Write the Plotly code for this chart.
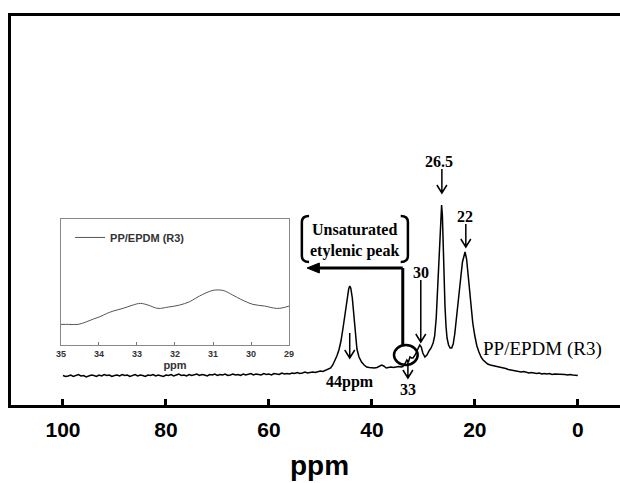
import plotly.graph_objects as go

# ---------------- data ----------------
# Main 13C NMR spectrum: chemical shift (ppm) and intensity (a.u.)
ppm_main = [
    100, 99.5, 99, 98.5, 98, 97.5, 97, 96.5, 96, 95.5, 95, 94.5, 94, 93.5, 93, 92.5,
    92, 91.5, 91, 90.5, 90, 89.5, 89, 88.5, 88, 87.5, 87, 86.5, 86, 85.5, 85, 84.5,
    84, 83.5, 83, 82.5, 82, 81.5, 81, 80.5, 80, 79.5, 79, 78.5, 78, 77.5, 77, 76.5,
    76, 75.5, 75, 74.5, 74, 73.5, 73, 72.5, 72, 71.5, 71, 70.5, 70, 69.5, 69, 68.5,
    68, 67.5, 67, 66.5, 66, 65.5, 65, 64.5, 64, 63.5, 63, 62.5, 62, 61.5, 61, 60.5,
    60, 59.5, 59, 58.5, 58, 57.5, 57, 56.5, 56, 55.5, 55, 54.5, 54, 53.5, 53, 52.5,
    52, 51.5, 51, 50.5, 50, 49.5, 49, 48.5, 48, 47.6, 47.2, 46.8, 46.4, 46.0, 45.6,
    45.2, 44.8, 44.5, 44.3, 44.1, 43.8, 43.5, 43.3, 43.1, 42.9, 42.5, 42.0, 41.5,
    41.0, 40.5, 40.0, 39.5, 39.0, 38.5, 38.1, 37.7, 37.2, 36.8, 36.3, 35.8, 35.3,
    34.8, 34.3, 34.0, 33.6, 33.2, 32.9, 32.6, 32.3, 32.0, 31.6, 31.3, 31.0, 30.7,
    30.4, 30.1, 29.7, 29.3, 28.9, 28.5, 28.1, 27.8, 27.5, 27.2, 27.0, 26.8, 26.6,
    26.45, 26.3, 26.15, 26.0, 25.8, 25.6, 25.4, 25.1, 24.8, 24.5, 24.2, 23.9, 23.6,
    23.3, 23.0, 22.7, 22.4, 22.1, 21.9, 21.6, 21.3, 21.0, 20.7, 20.4, 20.0, 19.6,
    19.2, 18.8, 18.4, 18.0, 17.5, 17.0, 16.5, 16.0, 15.5, 15.0, 14.5, 14.0, 13.5,
    13.0, 12.5, 12.0, 11.5, 11.0, 10.5, 10.0, 9.5, 9.0, 8.5, 8.0, 7.5, 7.0, 6.5,
    6.0, 5.5, 5.0, 4.5, 4.0, 3.5, 3.0, 2.5, 2.0, 1.5, 1.0, 0.5, 0.0,
]
int_main = [
    0.5, -0.5, 0, 1, -0.5, 0.5, 1.5, 0, 0.5, -1, 0, 1, 0.5, -0.5, 1, 0,
    1.5, 0.5, 1, -0.5, 0.5, 1, 0, 1.5, 0.5, 1, -0.5, 0.5, 1.5, 0, 1, 0.5,
    -0.5, 1, 0.5, 1.5, 0, 1, 0.5, -0.5, 1, 0.5, 1.5, 0, 1, 2, 0.5, 1,
    0, 1.5, 0.5, 1, 2, 0.5, 1.5, 1, 0, 1.5, 1, 2, 0.5, 1.5, 1, 2,
    0.5, 1, 2, 1, 1.5, 0.5, 2, 1, 1.5, 2.5, 1, 2, 1.5, 1, 2.5, 1.5,
    2, 1, 2.5, 2, 1.5, 3, 2, 2.5, 2, 3, 2.5, 3.5, 2.5, 3, 4, 3,
    3.5, 4, 3.5, 4.5, 5, 4.5, 5.5, 6.5, 8, 11, 15, 20, 26, 35, 48,
    63, 79, 87, 90, 88, 78, 61, 49, 37, 27, 19, 14, 11,
    9, 8.5, 8, 8, 8.5, 9.5, 11, 10, 8, 8.5, 9, 8.5, 9,
    9.5, 9, 9.5, 12, 16, 14, 19, 18, 18, 21, 25, 29, 31,
    29, 23, 19, 21, 25, 28, 33, 40, 58, 90, 118, 148, 168,
    171, 160, 130, 100, 70, 50, 38, 31, 28, 28, 32, 42, 55,
    70, 84, 100, 114, 122, 124, 117, 100, 83, 66, 53, 40, 30,
    24, 19, 16, 14, 12, 11, 10.5, 10, 9.5, 9, 8, 7.5, 6.5,
    6, 5.5, 5, 4.5, 4, 4.5, 3.5, 3, 3.5, 3, 2.5, 3, 2, 2.5,
    2, 2.5, 1.5, 2, 2, 1.5, 2, 1.5, 1, 1.5, 1, 0.5, 0.5,
]

# Inset: zoom of the 35-29 ppm region
ppm_inset = [35.0, 34.8, 34.55, 34.33, 34.15, 33.98, 33.8, 33.63, 33.37, 33.11,
             32.91, 32.71, 32.45, 32.18, 31.88, 31.62, 31.45, 31.27, 31.1, 30.96,
             30.74, 30.6, 30.48, 30.21, 29.95, 29.64, 29.33, 29.16, 29.0]
int_inset = [20.7, 20.7, 20.7, 23.3, 26, 28.3, 31.5, 34, 36.7, 40,
             41.7, 40, 36.7, 38, 40, 43.3, 47, 50.7, 53.5, 55,
             54.7, 52.5, 50, 44.7, 40.7, 39, 36.7, 37.3, 39]

main_ticks = [100, 80, 60, 40, 20, 0]
inset_ticks = [35, 34, 33, 32, 31, 30, 29]
series_name = "PP/EPDM (R3)"
x_title = "ppm"

# ---------------- figure ----------------
SERIF = "Liberation Serif, Times New Roman, serif"
SANS = "Liberation Sans, Arial, sans-serif"

fig = go.Figure()
fig.add_trace(go.Scatter(x=ppm_main, y=int_main, mode="lines",
                         line=dict(color="black", width=1.5),
                         showlegend=False, xaxis="x", yaxis="y"))
fig.add_trace(go.Scatter(x=ppm_inset, y=int_inset, mode="lines",
                         line=dict(color="#555555", width=1, shape="spline"),
                         name=series_name, xaxis="x2", yaxis="y2"))

PX = 5.15  # pixels per ppm (for annotation geometry)


def down_arrow(x, y_top, y_tip, hw=5.0, hh=8.0):
    dx = hw / PX
    return dict(type="path", xref="x", yref="y",
                path=f"M {x},{y_top} L {x},{y_tip} M {x+dx},{y_tip+hh} L {x},{y_tip} L {x-dx},{y_tip+hh}",
                line=dict(color="black", width=1.5))


shapes = [
    down_arrow(26.4, 207, 183),
    down_arrow(21.75, 152, 129),
    down_arrow(30.5, 96, 34),
    down_arrow(44.3, 43, 18),
    down_arrow(33.0, 16, -2),
    # circle around the unsaturated peak
    dict(type="circle", xref="x", yref="y", x0=35.7, x1=31.1, y0=11, y1=31,
         line=dict(color="black", width=2.5)),
    # thick arrow to the inset
    dict(type="line", xref="x", yref="y", x0=34.0, x1=34.0, y0=31, y1=108,
         line=dict(color="black", width=3)),
    dict(type="line", xref="x", yref="y", x0=34.0, x1=50.6, y0=108, y1=108,
         line=dict(color="black", width=3)),
    dict(type="path", xref="x", yref="y",
         path="M 52.6,108 L 50.2,113 L 50.2,103 Z",
         fillcolor="black", line=dict(color="black", width=1)),
    # brackets around the text
    dict(type="path", xref="x", yref="y",
         path="M 52.2,160 Q 53.6,160 53.6,154 L 53.6,120 Q 53.6,114 52.2,114",
         line=dict(color="black", width=2.5)),
    dict(type="path", xref="x", yref="y",
         path="M 34.4,160 Q 33.0,160 33.0,154 L 33.0,120 Q 33.0,114 34.4,114",
         line=dict(color="black", width=2.5)),
]

tfont = dict(family=SERIF, size=16, color="black", weight="bold")
annotations = [
    dict(x=26.9, y=215, text="26.5", font=tfont),
    dict(x=21.9, y=160, text="22", font=tfont),
    dict(x=30.5, y=104, text="30", font=tfont),
    dict(x=44.3, y=-6, text="44ppm", font=tfont),
    dict(x=33.0, y=-13, text="33", font=tfont),
    dict(x=43.4, y=136, text="Unsaturated<br>etylenic peak", font=tfont, align="center"),
    dict(x=18.8, y=27, text=series_name, xanchor="left",
         font=dict(family=SERIF, size=19, color="black")),
]
for a in annotations:
    a.update(xref="x", yref="y", showarrow=False)
    a.setdefault("xanchor", "center")
    a.setdefault("yanchor", "middle")

# main x-axis title placed in paper coordinates below the tick labels
annotations.append(dict(xref="paper", yref="paper", x=0.507, y=-0.155,
                        xanchor="center", yanchor="middle", showarrow=False,
                        text=x_title,
                        font=dict(family=SANS, size=28, color="black", weight="bold")))

fig.update_layout(
    width=620, height=483,
    margin=dict(l=11, r=0, t=16, b=78),
    paper_bgcolor="white", plot_bgcolor="white",
    showlegend=True,
    legend=dict(x=0.097, y=0.468, xanchor="left", yanchor="top",
                bgcolor="rgba(0,0,0,0)",
                font=dict(family=SANS, size=11, color="#333333", weight="bold")),
    xaxis=dict(domain=[0, 1], range=[110.1, -8.2], tickvals=main_ticks,
               ticks="inside", ticklen=6, tickwidth=2.5, tickcolor="black",
               showline=True, linewidth=3, linecolor="black", mirror=True,
               showgrid=False, zeroline=False, ticklabelstandoff=4,
               automargin=False,
               tickfont=dict(family=SANS, size=21, color="black", weight="bold")),
    yaxis=dict(domain=[0, 1], range=[-29, 360], showline=True, linewidth=3,
               linecolor="black", showticklabels=False, ticks="",
               showgrid=False, zeroline=False, automargin=False),
    xaxis2=dict(domain=[0.0821, 0.4565], anchor="y2", range=[35, 29],
                tickvals=inset_ticks, ticks="inside", ticklen=3, tickcolor="#777777",
                showline=True, linewidth=1, linecolor="#888888", mirror=True,
                showgrid=False, zeroline=False, automargin=False,
                tickfont=dict(family=SANS, size=9, color="#333333", weight="bold"),
                title=dict(text=x_title, standoff=0,
                           font=dict(family=SANS, size=11, color="#333333", weight="bold"))),
    yaxis2=dict(domain=[0.154, 0.478], anchor="x2", range=[0, 126],
                showline=True, linewidth=1, linecolor="#888888", mirror=True,
                showticklabels=False, ticks="", showgrid=False, zeroline=False,
                automargin=False),
    shapes=shapes,
    annotations=annotations,
)

# Remove the browser's default 8px page margin so the 620x483 figure fills the window,
# and hide the interactive mode bar.
fig.write_html("out.html",
               config={"displayModeBar": False},
               post_script="document.body.style.margin='0';document.body.style.overflow='hidden';")
